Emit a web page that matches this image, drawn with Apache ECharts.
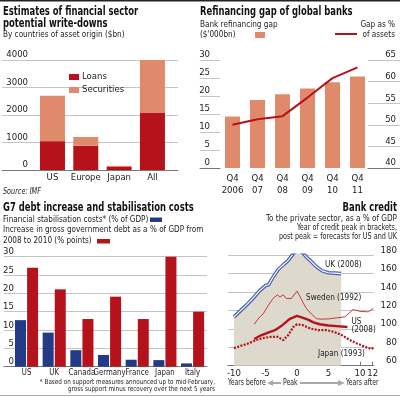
<!DOCTYPE html>
<html>
<head>
<meta charset="utf-8">
<script src="https://cdn.jsdelivr.net/npm/echarts@6/dist/echarts.min.js"></script>
<style>
html, body { margin: 0; padding: 0; background: #fff; }
#chart { width: 400px; height: 397px; }
</style>
</head>
<body>
<div id="chart"></div>
<script>
/* ---- data ---- */
// write-downs ($bn)
var wdCategories = ['US', 'Europe', 'Japan', 'All'];
var wdLoans = [1050, 880, 110, 2070];
var wdSecurities = [1650, 320, 40, 1990];

// refinancing gap
var rfCategories = ['Q4\n2006', 'Q4\n07', 'Q4\n08', 'Q4\n09', 'Q4\n10', 'Q4\n11'];
var rfGap = [14.3, 18.9, 20.5, 22.1, 23.8, 25.4];
var rfPctAssets = [50, 51.3, 52, 56.3, 60.8, 63.3];

// G7
var g7Countries = ['US', 'UK', 'Canada', 'Germany', 'France', 'Japan', 'Italy'];
var g7Stabilisation = [12.7, 9.3, 4.5, 3.2, 1.9, 1.8, 0.9];
var g7DebtIncrease = [27.0, 21.1, 13.0, 19.1, 13.0, 30.0, 15.0];

// bank credit (years from peak, % of GDP)
var ukYears = [-10, -9, -8, -7, -6, -5, -4.5, -4, -3, -2, -1.5, -1, -0.5, 0, 0.5, 1, 1.5, 2, 3, 4, 5, 6, 7];
var ukCredit = [113, 119.5, 126, 133, 141, 147, 148, 154, 164.5, 170.7, 173.5, 178, 182.5, 185, 184.5, 182, 178, 175, 168, 163, 161, 160.5, 160];
var seYears = [-6.8, -5.9, -5.4, -4.6, -3.8, -3.1, -2.7, -2.2, -1.7, -0.9, 0, 0.4, 1, 1.5, 2.3, 3.1, 3.9, 5.2, 6.3, 7.6, 8.4, 8.9, 10, 11.3, 12.1];
var seCredit = [105, 113, 116, 125, 133, 137, 134.5, 137, 133, 133, 141, 136, 128, 122, 116, 111, 110.5, 111, 112, 113, 118, 121, 119, 118.5, 122];
var usYears = [-6.8, -5.7, -4.6, -3.5, -2.5, -1.2, 0, 0.95, 1.75, 2.6, 3.6, 5, 6.3, 8];
var usCredit = [89, 93, 96, 98.6, 103, 110.5, 114, 112, 110, 107, 105, 103.7, 103, 102];
var jpYears = [-10, -8.9, -7.8, -6.5, -5.2, -4.1, -3.05, -2.2, -1.4, -0.6, 0, 0.95, 2.1, 3.4, 4.7, 5.8, 7.1, 8.4, 9.5, 10.8, 11.8, 12.1];
var jpCredit = [79, 81.6, 84, 87.8, 90.3, 91.4, 91.4, 87.8, 93.2, 102, 105, 104, 100.4, 98.6, 98.6, 96.8, 93.2, 87.8, 84.2, 80.5, 78, 79.5];
var bcTicks = [-10, -5, 0, 5, 10, 12];

/* ---- style ---- */
var FONT = "'Liberation Sans Narrow', 'DejaVu Sans Condensed', 'Liberation Sans', sans-serif";
var RED = '#b5121b';
var SALMON = '#e08a6c';
var NAVY = '#233a88';
var GRID_LINE = '#c4c4c4';
var AXIS_LINE = '#777';
var TXT = '#222';

function pairs(xs, ys) {
    return xs.map(function (x, i) { return [x, ys[i]]; });
}

// text squeezed horizontally to mimic the narrow newspaper face
function txt(x, y, s, size, opt) {
    opt = opt || {};
    return {
        type: 'text', x: x, y: y, z: 50, silent: true,
        scaleX: opt.sx || (opt.bold ? 0.78 : 0.9),
        style: {
            text: s, fontSize: size, fontFamily: FONT,
            fontWeight: opt.bold ? 'bold' : 'normal',
            fontStyle: opt.italic ? 'italic' : 'normal',
            fill: opt.color || TXT,
            align: opt.align || 'left', verticalAlign: 'middle'
        }
    };
}

function plain(v) { return String(v); }

// frame axis: only gridlines + labels, no data
function frameY(grid, min, max, step, pos, margin) {
    return {
        type: 'value', gridIndex: grid, min: min, max: max, interval: step, position: pos,
        axisLine: { show: false }, axisTick: { show: false },
        splitLine: { lineStyle: { color: GRID_LINE, width: 1 } },
        axisLabel: {
            inside: true, margin: margin, align: 'right', verticalAlign: 'bottom', formatter: plain,
            fontSize: 9.5, fontFamily: FONT, color: TXT
        }
    };
}
function frameX(grid) {
    return {
        type: 'value', gridIndex: grid, min: 0, max: 1,
        axisLine: { show: true, onZero: false, lineStyle: { color: AXIS_LINE } },
        axisTick: { show: false }, axisLabel: { show: false }, splitLine: { show: false }
    };
}
function hiddenY(grid, min, max) {
    return { type: 'value', gridIndex: grid, min: min, max: max, show: false };
}
function catX(grid, data, margin, showLabel) {
    return {
        type: 'category', gridIndex: grid, data: data,
        axisLine: { show: false }, axisTick: { show: false },
        axisLabel: { show: showLabel, interval: 0, margin: margin, fontSize: 9.5, fontFamily: FONT, color: TXT, lineHeight: 12 }
    };
}

var graphics = [
    { type: 'rect', shape: { x: 0, y: 0, width: 400, height: 1.5 }, style: { fill: '#222' }, silent: true },
    { type: 'line', shape: { x1: 0, y1: 395.5, x2: 400, y2: 395.5 }, style: { stroke: '#aaa', lineWidth: 1 }, silent: true },

    // write-downs
    txt(3, 11.5, 'Estimates of financial sector', 12, { bold: true, color: '#111' }),
    txt(3, 23.5, 'potential write-downs', 12, { bold: true, color: '#111' }),
    txt(3, 35, 'By countries of asset origin ($bn)', 9),
    txt(3, 192, 'Source: IMF', 8, { italic: true }),

    // refinancing
    txt(200, 11.5, 'Refinancing gap of global banks', 12, { bold: true, color: '#111' }),
    txt(200, 25, 'Bank refinancing gap', 9),
    txt(200, 35, "($'000bn)", 9),
    { type: 'rect', shape: { x: 255, y: 32, width: 10, height: 6 }, style: { fill: SALMON }, silent: true },
    txt(395, 25, 'Gap as %', 9, { align: 'right' }),
    txt(395, 35, 'of assets', 9, { align: 'right' }),
    { type: 'line', shape: { x1: 335, y1: 34, x2: 357, y2: 34 }, style: { stroke: RED, lineWidth: 2 }, silent: true },

    // G7
    txt(3, 208, 'G7 debt increase and stabilisation costs', 12, { bold: true, color: '#111' }),
    txt(3, 220, 'Financial stabilisation costs* (% of GDP)', 9),
    { type: 'rect', shape: { x: 150, y: 217.5, width: 12, height: 4.5 }, style: { fill: NAVY }, silent: true },
    txt(3, 230, 'Increase in gross government debt as a % of GDP from', 9),
    txt(3, 241, '2008 to 2010 (% points)', 9),
    { type: 'rect', shape: { x: 97, y: 239, width: 13, height: 4.5 }, style: { fill: RED }, silent: true },
    txt(215, 382.5, '* Based on support measures announced up to mid-February,', 7, { align: 'right' }),
    txt(215, 388.7, 'gross support minus recovery over the next 5 years', 7, { align: 'right' }),

    // bank credit
    txt(397, 207.5, 'Bank credit', 12, { bold: true, color: '#111', align: 'right' }),
    txt(397, 218.3, 'To the private sector, as a % of GDP', 9, { align: 'right' }),
    txt(397, 228.3, 'Year of credit peak in brackets,', 8, { align: 'right' }),
    txt(397, 236.7, 'post peak = forecasts for US and UK', 8, { align: 'right' }),
    txt(325, 264.3, 'UK (2008)', 9),
    txt(306, 297.7, 'Sweden (1992)', 9),
    txt(351.5, 321.7, 'US', 9),
    txt(351.5, 330, '(2008)', 9),
    txt(318, 354, 'Japan (1993)', 9),
    txt(228, 383, 'Years before', 8, { sx: 0.85 }),
    txt(283, 383, 'Peak', 8, { sx: 0.85 }),
    txt(346, 383, 'Years after', 8, { sx: 0.85 }),
    { type: 'polygon', shape: { points: [[267, 383], [273, 380], [273, 382], [281, 382], [281, 384], [273, 384], [273, 386]] },
      style: { fill: '#aaa' }, silent: true },
    { type: 'polygon', shape: { points: [[300, 382], [338, 382], [338, 380], [345, 383], [338, 386], [338, 384], [300, 384]] },
      style: { fill: '#aaa' }, silent: true }
];

var option = {
    animation: false,
    backgroundColor: '#fff',
    textStyle: { fontFamily: FONT },
    grid: [
        { left: 2, top: 60, width: 176, height: 110 },        // 0 write-downs frame
        { left: 35.8, top: 60, width: 133.3, height: 110 },   // 1 write-downs bars
        { left: 200, top: 60, width: 20, height: 108 },       // 2 refinancing left frame
        { left: 220, top: 60, width: 150, height: 108 },      // 3 refinancing bars
        { left: 368, top: 60, width: 32, height: 108 },       // 4 refinancing right frame
        { left: 0, top: 256.7, width: 207, height: 110 },     // 5 G7 frame
        { left: 12.7, top: 256.7, width: 193.7, height: 110 },// 6 G7 bars
        { left: 227.7, top: 255.2, width: 146.2, height: 110.5 } // 7 bank credit
    ],
    xAxis: [
        frameX(0),
        catX(1, wdCategories, 2, true),
        frameX(2),
        catX(3, rfCategories, 5, true),
        frameX(4),
        frameX(5),
        catX(6, g7Countries, 1, false),
        {
            type: 'value', gridIndex: 7, min: -11, max: 12.2,
            axisLine: { onZero: false, lineStyle: { color: AXIS_LINE } },
            axisTick: { inside: true, length: 4, customValues: bcTicks, lineStyle: { color: AXIS_LINE } },
            axisLabel: { customValues: bcTicks, margin: 3, fontSize: 9.5, fontFamily: FONT, color: TXT },
            splitLine: { show: false }
        }
    ],
    yAxis: [
        frameY(0, 0, 4000, 1000, 'left', 26),
        hiddenY(1, 0, 4000),
        frameY(2, 0, 30, 5, 'left', 10),
        hiddenY(3, 0, 30),
        hiddenY(3, 40, 65),
        frameY(4, 40, 65, 5, 'right', 4),
        frameY(5, 0, 30, 5, 'left', 10),
        hiddenY(6, 0, 30),
        {
            type: 'value', gridIndex: 7, position: 'right', min: 60, max: 180, interval: 20,
            axisLine: { show: false }, axisTick: { show: false },
            splitLine: { lineStyle: { color: GRID_LINE } },
            axisLabel: { margin: 23, align: 'right', verticalAlign: 'bottom', fontSize: 9.5, fontFamily: FONT, color: TXT }
        }
    ],
    legend: {
        data: ['Loans', 'Securities'], orient: 'vertical', left: 64, top: 67,
        itemWidth: 10, itemHeight: 6, itemGap: 3, icon: 'rect', selectedMode: false,
        textStyle: { fontSize: 9.5, fontFamily: FONT, color: TXT, padding: [0, 0, 0, -2] }
    },
    series: [
        { name: 'Loans', type: 'bar', xAxisIndex: 1, yAxisIndex: 1, stack: 'wd', barWidth: 25,
          itemStyle: { color: RED }, data: wdLoans },
        { name: 'Securities', type: 'bar', xAxisIndex: 1, yAxisIndex: 1, stack: 'wd', barWidth: 25,
          itemStyle: { color: SALMON }, data: wdSecurities },

        { name: 'Bank refinancing gap', type: 'bar', xAxisIndex: 3, yAxisIndex: 3, barWidth: 15,
          itemStyle: { color: SALMON }, data: rfGap },
        { name: 'Gap as % of assets', type: 'line', xAxisIndex: 3, yAxisIndex: 4, symbol: 'none',
          lineStyle: { color: RED, width: 2 }, data: rfPctAssets },

        { name: 'Financial stabilisation costs', type: 'bar', xAxisIndex: 6, yAxisIndex: 7, barWidth: 11, barGap: '10%',
          itemStyle: { color: NAVY }, data: g7Stabilisation },
        { name: 'Increase in gross government debt', type: 'bar', xAxisIndex: 6, yAxisIndex: 7, barWidth: 11, barGap: '10%',
          itemStyle: { color: RED }, data: g7DebtIncrease },

        { name: 'UK (2008)', type: 'line', xAxisIndex: 7, yAxisIndex: 8, symbol: 'none', z: 2,
          lineStyle: { color: '#4a63b0', width: 3.6 },
          areaStyle: { color: '#ddd9cc', opacity: 1, origin: 'start' },
          data: pairs(ukYears, ukCredit) },
        { name: 'UK inner', type: 'line', xAxisIndex: 7, yAxisIndex: 8, symbol: 'none', z: 3,
          lineStyle: { color: '#fff', width: 1.1 }, data: pairs(ukYears, ukCredit) },
        { name: 'Sweden (1992)', type: 'line', xAxisIndex: 7, yAxisIndex: 8, symbol: 'none', z: 3,
          lineStyle: { color: '#c8242e', width: 0.9 }, data: pairs(seYears, seCredit) },
        { name: 'Japan (1993)', type: 'line', xAxisIndex: 7, yAxisIndex: 8, symbol: 'none', z: 3,
          lineStyle: { color: RED, width: 2.2, type: [2, 1.4] }, data: pairs(jpYears, jpCredit) },
        { name: 'US (2008)', type: 'line', xAxisIndex: 7, yAxisIndex: 8, symbol: 'none', z: 4,
          lineStyle: { color: RED, width: 2.4 }, data: pairs(usYears, usCredit) }
    ],
    graphic: graphics
};

var chart = echarts.init(document.getElementById('chart'), null, { renderer: 'canvas' });
chart.setOption(option);

// G7 country names: placed at the category centres given by the axis, squeezed like the rest
var g7Base = chart.convertToPixel({ yAxisIndex: 7 }, 0);
var g7Labels = g7Countries.map(function (c, i) {
    var px = chart.convertToPixel({ xAxisIndex: 6 }, i);
    return txt(px, g7Base + 6, c, 9.5, { align: 'center', sx: 0.82 });
});
chart.setOption({ graphic: graphics.concat(g7Labels) });
</script>
</body>
</html>
